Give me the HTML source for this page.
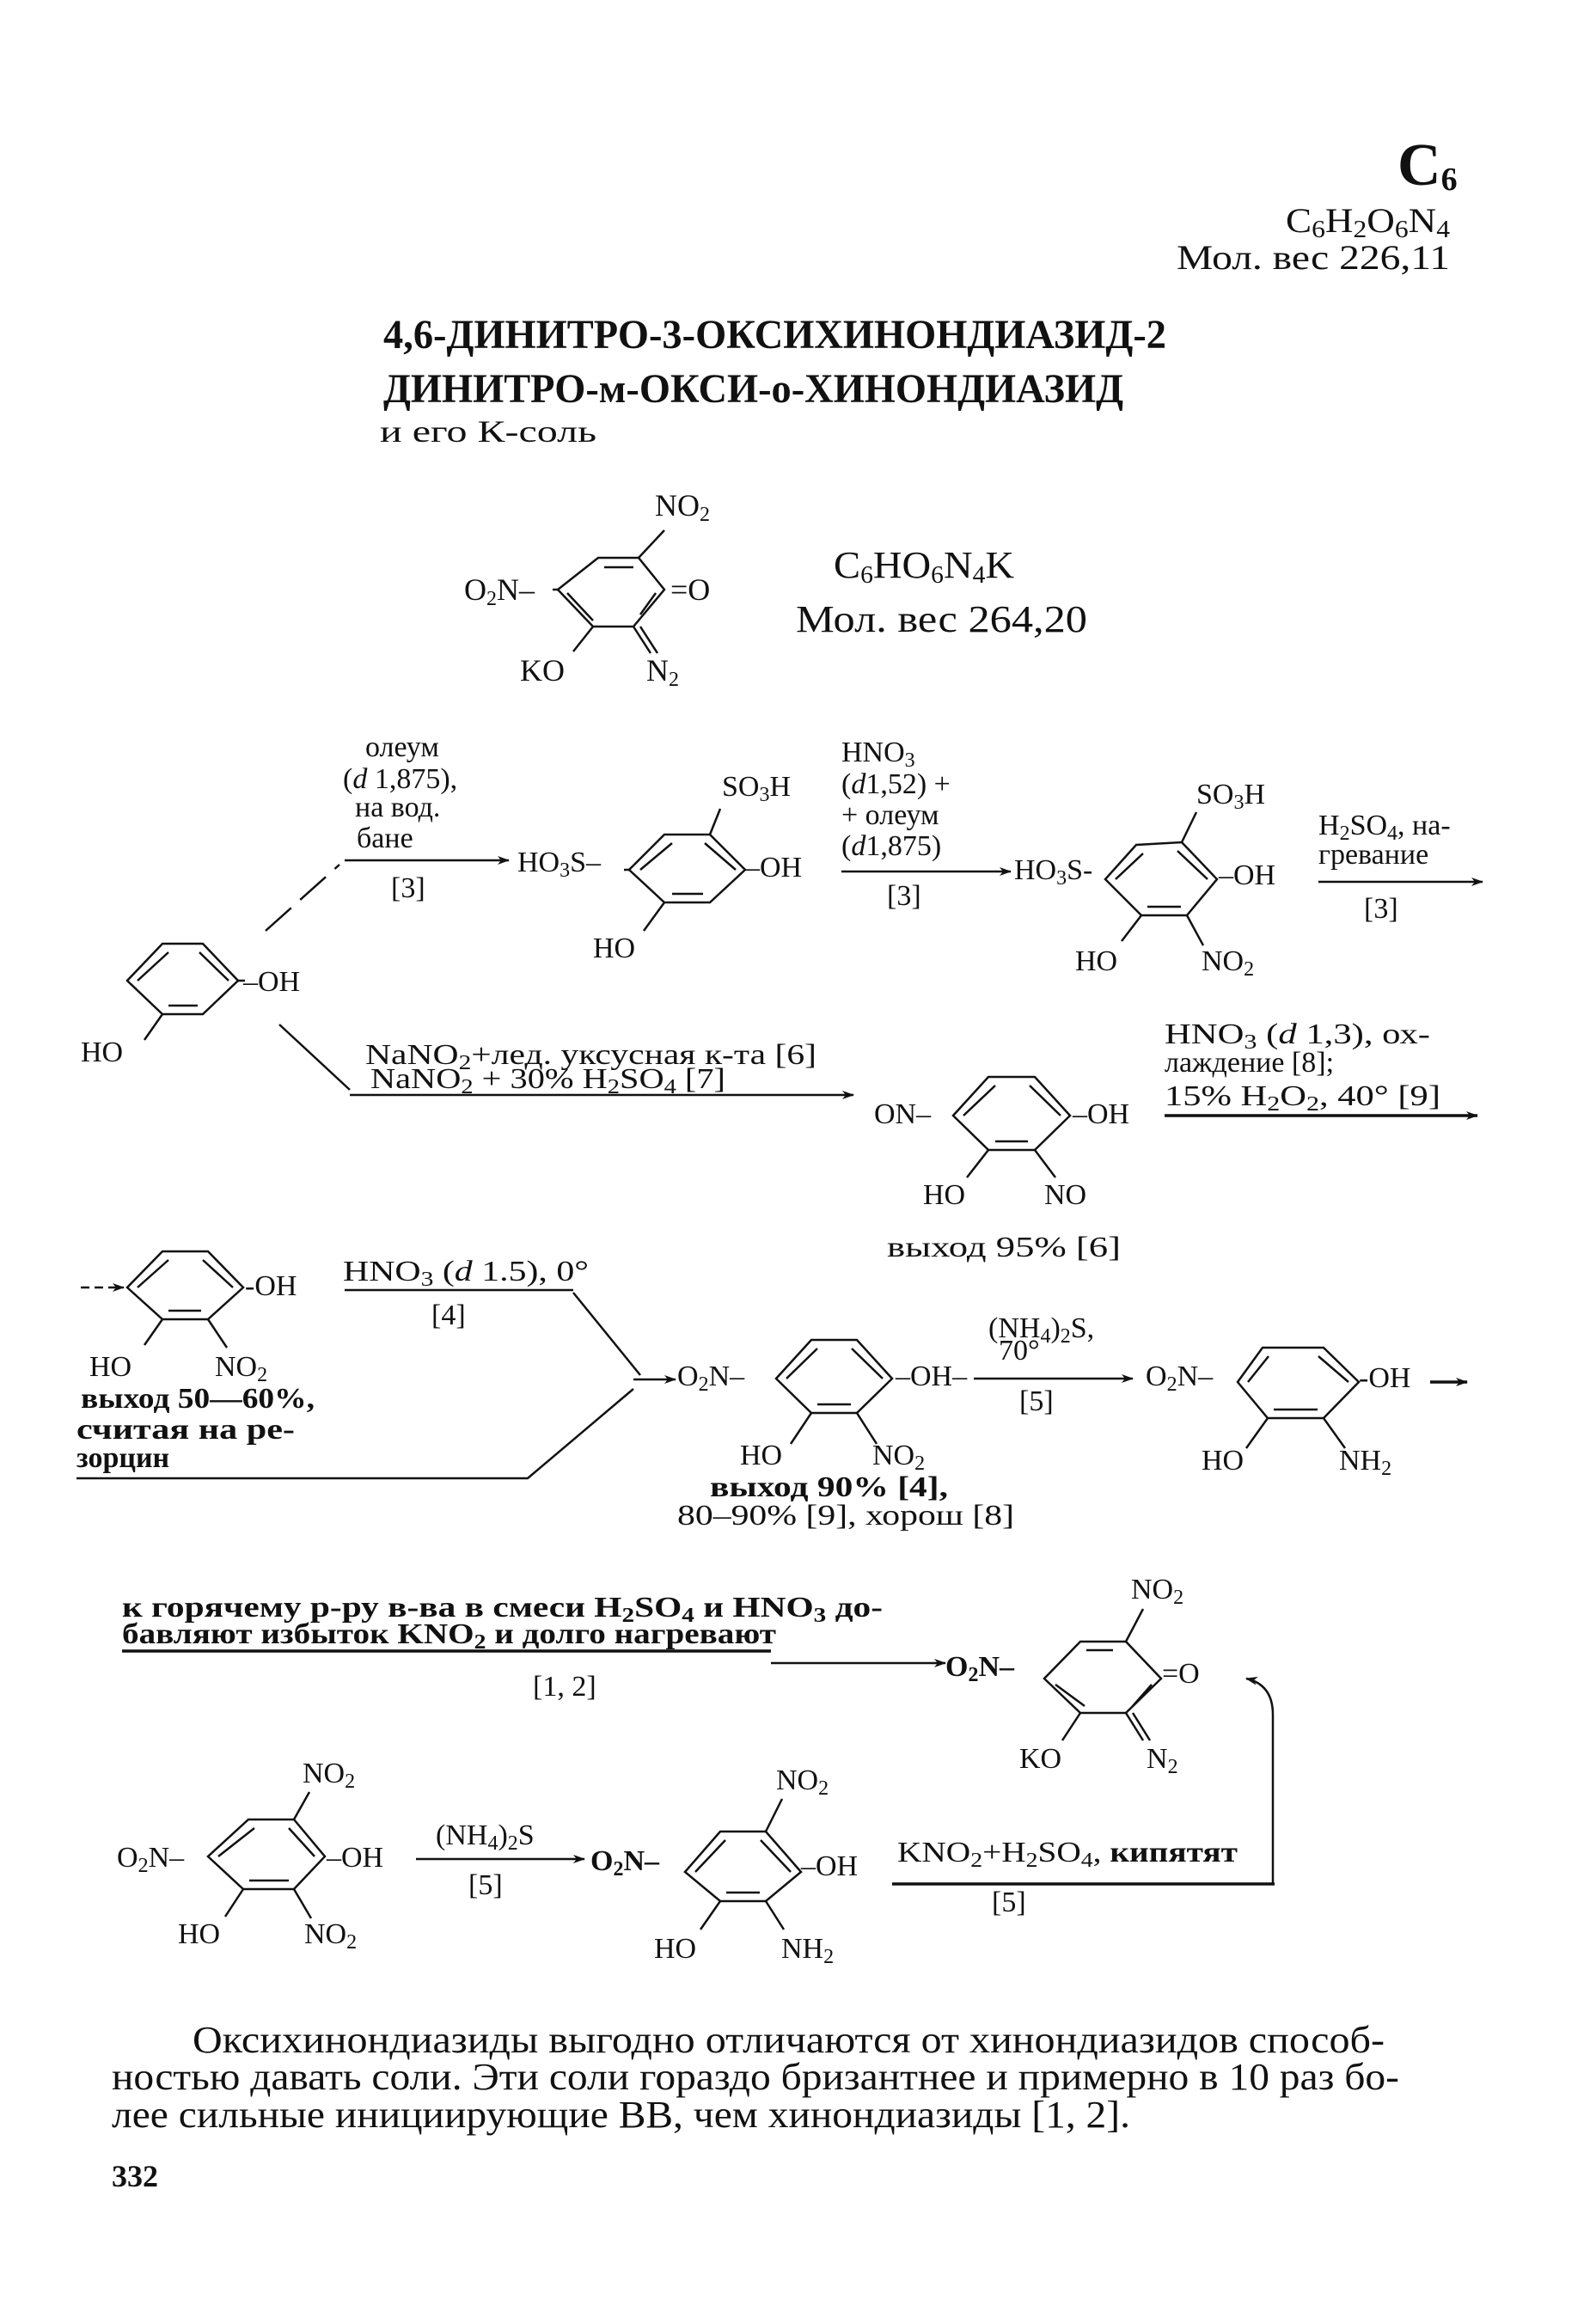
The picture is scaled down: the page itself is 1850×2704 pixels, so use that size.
<!DOCTYPE html>
<html><head><meta charset="utf-8"><style>
html,body{margin:0;padding:0;background:#fff;}
svg{display:block;}
text{font-family:"Liberation Serif","DejaVu Serif",serif;fill:#111;}
.b{font-weight:bold;}
</style></head><body>
<svg xmlns="http://www.w3.org/2000/svg" width="1850" height="2704" viewBox="0 0 1850 2704">
<defs><marker id="a" markerWidth="14" markerHeight="10" refX="13" refY="5" orient="auto" markerUnits="userSpaceOnUse"><path d="M0,0 L14,5 L0,10 L4,5z" fill="#111"/></marker></defs>
<g stroke="#111" stroke-width="2.5" fill="none">
<!-- rings -->
<polygon points="696,649 743,649 773,686 737,729 690,729 649,686"/>
<polygon points="189,1098 236,1098 277,1141 236,1180 189,1180 148,1141"/>
<polygon points="773,971 826,971 867,1012 826,1050 773,1050 732,1012"/>
<polygon points="1322,983 1375,980 1416,1023 1381,1065 1328,1065 1286,1023"/>
<polygon points="1150,1253 1204,1253 1245,1298 1204,1338 1150,1338 1109,1298"/>
<polygon points="189,1456 242,1456 283,1498 242,1535 189,1535 148,1498"/>
<polygon points="944,1559 997,1559 1038,1604 997,1644 944,1644 903,1604"/>
<polygon points="1469,1568 1540,1568 1581,1608 1540,1650 1475,1650 1440,1608"/>
<polygon points="1257,1910 1310,1910 1351,1953 1310,1993 1257,1993 1215,1953"/>
<polygon points="289,2117 342,2117 378,2160 342,2198 283,2198 242,2160"/>
<polygon points="838,2131 891,2131 932,2178 891,2212 838,2212 797,2178"/>
<!-- inner double bonds -->
<path d="M703,660 L737,660 M745,715 L763,690 M660,690 L690,722"/>
<path d="M196,1108 L160,1141 M232,1108 L266,1141 M196,1170 L230,1170"/>
<path d="M782,981 L745,1012 M820,981 L856,1012 M782,1040 L818,1040"/>
<path d="M1330,993 L1298,1023 M1370,990 L1405,1023 M1335,1055 L1374,1055"/>
<path d="M1158,1263 L1121,1298 M1198,1263 L1234,1298 M1158,1328 L1196,1328"/>
<path d="M196,1466 L160,1498 M236,1466 L271,1498 M196,1525 L234,1525"/>
<path d="M951,1569 L915,1604 M991,1569 L1027,1604 M951,1634 L990,1634"/>
<path d="M1476,1578 L1452,1608 M1534,1578 L1569,1608 M1482,1640 L1533,1640"/>
<path d="M1264,1920 L1295,1920 M1228,1960 L1262,1985 M1318,1985 L1340,1960"/>
<path d="M296,2127 L254,2160 M336,2127 L366,2160 M290,2188 L336,2188"/>
<path d="M844,2141 L809,2178 M885,2141 L920,2178 M845,2202 L884,2202"/>
<!-- substituent bonds -->
<path d="M773,617 L743,649 M643,686 L649,686 M690,729 L667,758 M737,729 L757,760 M745,729 L765,760"/>
<path d="M189,1180 L168,1210 M277,1141 L285,1141"/>
<path d="M838,941 L826,971 M773,1050 L749,1083 M726,1012 L732,1012"/>
<path d="M1392,945 L1375,980 M1328,1065 L1305,1095 M1381,1065 L1400,1100"/>
<path d="M1150,1338 L1125,1370 M1204,1338 L1228,1370"/>
<path d="M189,1535 L168,1565 M242,1535 L264,1568"/>
<path d="M944,1644 L920,1680 M997,1644 L1020,1680"/>
<path d="M1475,1650 L1450,1685 M1540,1650 L1565,1685"/>
<path d="M1330,1872 L1310,1910 M1257,1993 L1236,2025 M1310,1993 L1330,2025 M1318,1993 L1338,2025"/>
<path d="M360,2085 L342,2117 M283,2198 L262,2230 M342,2198 L362,2232"/>
<path d="M910,2093 L891,2131 M838,2212 L815,2245 M891,2212 L912,2245"/>
<!-- connectors -->
<path d="M309,1083 L395,1006" stroke-dasharray="40,14"/>
<line x1="401" y1="1001" x2="592" y2="1001" marker-end="url(#a)"/>
<line x1="979" y1="1014" x2="1176" y2="1014" marker-end="url(#a)"/>
<line x1="1534" y1="1026" x2="1725" y2="1026" marker-end="url(#a)"/>
<path d="M325,1192 L407,1268"/>
<line x1="407" y1="1274" x2="993" y2="1274" marker-end="url(#a)"/>
<line x1="1355" y1="1298" x2="1719" y2="1298" stroke-width="3.5" marker-end="url(#a)"/>
<line x1="94" y1="1498" x2="144" y2="1498" stroke-dasharray="10,6" marker-end="url(#a)"/>
<line x1="401" y1="1501" x2="667" y2="1501"/>
<path d="M667,1504 L745,1600"/>
<path d="M89,1720 L614,1720 L737,1616"/>
<line x1="737" y1="1605" x2="786" y2="1605" marker-end="url(#a)"/>
<line x1="1133" y1="1604" x2="1318" y2="1604" marker-end="url(#a)"/>
<line x1="1664" y1="1608" x2="1707" y2="1608" stroke-width="3.5" marker-end="url(#a)"/>
<line x1="142" y1="1921" x2="897" y2="1921" stroke-width="3.5"/>
<line x1="897" y1="1935" x2="1100" y2="1935" marker-end="url(#a)"/>
<line x1="484" y1="2163" x2="680" y2="2163" marker-end="url(#a)"/>
<line x1="1038" y1="2192" x2="1483" y2="2192" stroke-width="3.5"/>
<path d="M1481,2192 L1481,1995 Q1481,1960 1450,1953" marker-end="url(#a)"/>
</g>
<!-- header -->
<text x="1626" y="215" font-size="70" class="b">C<tspan font-size="38" dy="6">6</tspan></text>
<text x="1496" y="270" font-size="40" textLength="191" lengthAdjust="spacingAndGlyphs">C<tspan font-size="28" dy="6">6</tspan><tspan dy="-6">H</tspan><tspan font-size="28" dy="6">2</tspan><tspan dy="-6">O</tspan><tspan font-size="28" dy="6">6</tspan><tspan dy="-6">N</tspan><tspan font-size="28" dy="6">4</tspan></text>
<text x="1369" y="313" font-size="40" textLength="318" lengthAdjust="spacingAndGlyphs">Мол. вес 226,11</text>
<text x="446" y="405" font-size="48" class="b" textLength="911" lengthAdjust="spacingAndGlyphs">4,6-ДИНИТРО-3-ОКСИХИНОНДИАЗИД-2</text>
<text x="446" y="468" font-size="48" class="b" textLength="861" lengthAdjust="spacingAndGlyphs">ДИНИТРО-м-ОКСИ-о-ХИНОНДИАЗИД</text>
<text x="442" y="514" font-size="36" textLength="252" lengthAdjust="spacingAndGlyphs">и его К-соль</text>
<!-- structure 1 -->
<g font-size="36">
<text x="762" y="600">NO<tspan font-size="24" dy="6">2</tspan></text>
<text x="540" y="698">O<tspan font-size="24" dy="6">2</tspan><tspan dy="-6">N–</tspan></text>
<text x="780" y="698">=O</text>
<text x="605" y="792">KO</text>
<text x="752" y="792">N<tspan font-size="24" dy="6">2</tspan></text>
</g>
<text x="970" y="672" font-size="44" textLength="210" lengthAdjust="spacingAndGlyphs">C<tspan font-size="28" dy="6">6</tspan><tspan dy="-6">HO</tspan><tspan font-size="28" dy="6">6</tspan><tspan dy="-6">N</tspan><tspan font-size="28" dy="6">4</tspan><tspan dy="-6">K</tspan></text>
<text x="926" y="735" font-size="44" textLength="339" lengthAdjust="spacingAndGlyphs">Мол. вес 264,20</text>
<!-- row 1 -->
<g font-size="34">
<text x="425" y="880">олеум</text>
<text x="399" y="917">(<tspan font-style="italic">d</tspan> 1,875),</text>
<text x="413" y="950">на вод.</text>
<text x="415" y="986">бане</text>
<text x="455" y="1044">[3]</text>
<text x="602" y="1014">HO<tspan font-size="24" dy="6">3</tspan><tspan dy="-6">S–</tspan></text>
<text x="840" y="926">SO<tspan font-size="24" dy="6">3</tspan><tspan dy="-6">H</tspan></text>
<text x="867" y="1020">–OH</text>
<text x="690" y="1114">HO</text>
<text x="979" y="886">HNO<tspan font-size="24" dy="6">3</tspan></text>
<text x="979" y="923">(<tspan font-style="italic">d</tspan>1,52) +</text>
<text x="979" y="959">+ олеум</text>
<text x="979" y="995">(<tspan font-style="italic">d</tspan>1,875)</text>
<text x="1032" y="1053">[3]</text>
<text x="1180" y="1023">HO<tspan font-size="24" dy="6">3</tspan><tspan dy="-6">S-</tspan></text>
<text x="1392" y="935">SO<tspan font-size="24" dy="6">3</tspan><tspan dy="-6">H</tspan></text>
<text x="1418" y="1029">–OH</text>
<text x="1251" y="1129">HO</text>
<text x="1398" y="1129">NO<tspan font-size="24" dy="6">2</tspan></text>
<text x="1534" y="971">H<tspan font-size="24" dy="6">2</tspan><tspan dy="-6">SO</tspan><tspan font-size="24" dy="6">4</tspan><tspan dy="-6">, на-</tspan></text>
<text x="1534" y="1005">гревание</text>
<text x="1587" y="1068">[3]</text>
<!-- row 2 -->
<text x="283" y="1153">–OH</text>
<text x="94" y="1235">HO</text>
<text x="425" y="1238" textLength="525" lengthAdjust="spacingAndGlyphs">NaNO<tspan font-size="24" dy="6">2</tspan><tspan dy="-6">+лед. уксусная к-та [6]</tspan></text>
<text x="431" y="1266" textLength="413" lengthAdjust="spacingAndGlyphs">NaNO<tspan font-size="24" dy="6">2</tspan><tspan dy="-6"> + 30% H</tspan><tspan font-size="24" dy="6">2</tspan><tspan dy="-6">SO</tspan><tspan font-size="24" dy="6">4</tspan><tspan dy="-6"> [7]</tspan></text>
<text x="1017" y="1307">ON–</text>
<text x="1248" y="1307">–OH</text>
<text x="1074" y="1401">HO</text>
<text x="1215" y="1401">NO</text>
<text x="1032" y="1462" textLength="272" lengthAdjust="spacingAndGlyphs">выход 95% [6]</text>
<text x="1355" y="1214" textLength="309" lengthAdjust="spacingAndGlyphs">HNO<tspan font-size="24" dy="6">3</tspan><tspan dy="-6"> (</tspan><tspan font-style="italic">d</tspan> 1,3), ох-</text>
<text x="1355" y="1247">лаждение [8];</text>
<text x="1355" y="1286" textLength="321" lengthAdjust="spacingAndGlyphs">15% H<tspan font-size="24" dy="6">2</tspan><tspan dy="-6">O</tspan><tspan font-size="24" dy="6">2</tspan><tspan dy="-6">, 40° [9]</tspan></text>
<!-- row 3 -->
<text x="285" y="1507">-OH</text>
<text x="104" y="1601">HO</text>
<text x="250" y="1601">NO<tspan font-size="24" dy="6">2</tspan></text>
<text x="94" y="1638" class="b" textLength="272" lengthAdjust="spacingAndGlyphs">выход 50—60%,</text>
<text x="89" y="1674" class="b" textLength="254" lengthAdjust="spacingAndGlyphs">считая на ре-</text>
<text x="89" y="1707" class="b">зорцин</text>
<text x="399" y="1490" textLength="286" lengthAdjust="spacingAndGlyphs">HNO<tspan font-size="24" dy="6">3</tspan><tspan dy="-6"> (</tspan><tspan font-style="italic">d</tspan> 1.5), 0°</text>
<text x="502" y="1541">[4]</text>
<text x="788" y="1612">O<tspan font-size="24" dy="6">2</tspan><tspan dy="-6">N–</tspan></text>
<text x="1042" y="1612">–OH–</text>
<text x="1150" y="1556">(NH<tspan font-size="24" dy="6">4</tspan><tspan dy="-6">)</tspan><tspan font-size="24" dy="6">2</tspan><tspan dy="-6">S,</tspan></text>
<text x="1162" y="1582">70°</text>
<text x="1186" y="1641">[5]</text>
<text x="861" y="1704">HO</text>
<text x="1015" y="1704">NO<tspan font-size="24" dy="6">2</tspan></text>
<text x="826" y="1741" class="b" textLength="277" lengthAdjust="spacingAndGlyphs">выход 90% [4],</text>
<text x="788" y="1774" textLength="392" lengthAdjust="spacingAndGlyphs">80–90% [9], хорош [8]</text>
<text x="1333" y="1612">O<tspan font-size="24" dy="6">2</tspan><tspan dy="-6">N–</tspan></text>
<text x="1581" y="1614">-OH</text>
<text x="1398" y="1710">HO</text>
<text x="1558" y="1710">NH<tspan font-size="24" dy="6">2</tspan></text>
<!-- row 4 -->
<text x="142" y="1881" class="b" textLength="885" lengthAdjust="spacingAndGlyphs">к горячему р-ру в-ва в смеси H<tspan font-size="24" dy="6">2</tspan><tspan dy="-6">SO</tspan><tspan font-size="24" dy="6">4</tspan><tspan dy="-6"> и HNO</tspan><tspan font-size="24" dy="6">3</tspan><tspan dy="-6"> до-</tspan></text>
<text x="142" y="1912" class="b" textLength="761" lengthAdjust="spacingAndGlyphs">бавляют избыток KNO<tspan font-size="24" dy="6">2</tspan><tspan dy="-6"> и долго нагревают</tspan></text>
<text x="620" y="1973">[1, 2]</text>
<text x="1100" y="1950" class="b">O<tspan font-size="24" dy="6">2</tspan><tspan dy="-6">N–</tspan></text>
<text x="1316" y="1860">NO<tspan font-size="24" dy="6">2</tspan></text>
<text x="1352" y="1958">=O</text>
<text x="1186" y="2057">KO</text>
<text x="1334" y="2057">N<tspan font-size="24" dy="6">2</tspan></text>
<!-- row 5 -->
<text x="352" y="2074">NO<tspan font-size="24" dy="6">2</tspan></text>
<text x="136" y="2172">O<tspan font-size="24" dy="6">2</tspan><tspan dy="-6">N–</tspan></text>
<text x="380" y="2172">–OH</text>
<text x="207" y="2261">HO</text>
<text x="354" y="2261">NO<tspan font-size="24" dy="6">2</tspan></text>
<text x="507" y="2146">(NH<tspan font-size="24" dy="6">4</tspan><tspan dy="-6">)</tspan><tspan font-size="24" dy="6">2</tspan><tspan dy="-6">S</tspan></text>
<text x="545" y="2204">[5]</text>
<text x="687" y="2176" class="b">O<tspan font-size="24" dy="6">2</tspan><tspan dy="-6">N–</tspan></text>
<text x="903" y="2082">NO<tspan font-size="24" dy="6">2</tspan></text>
<text x="932" y="2182">–OH</text>
<text x="761" y="2278">HO</text>
<text x="909" y="2278">NH<tspan font-size="24" dy="6">2</tspan></text>
<text x="1044" y="2166" textLength="396" lengthAdjust="spacingAndGlyphs">KNO<tspan font-size="24" dy="6">2</tspan><tspan dy="-6">+H</tspan><tspan font-size="24" dy="6">2</tspan><tspan dy="-6">SO</tspan><tspan font-size="24" dy="6">4</tspan><tspan dy="-6">, </tspan><tspan class="b">кипятят</tspan></text>
<text x="1154" y="2224">[5]</text>
</g>
<!-- paragraph -->
<g font-size="44">
<text x="224" y="2388" textLength="1387" lengthAdjust="spacingAndGlyphs">Оксихинондиазиды выгодно  отличаются от хинондиазидов  способ-</text>
<text x="130" y="2431" textLength="1498" lengthAdjust="spacingAndGlyphs">ностью давать соли. Эти соли гораздо бризантнее и примерно в 10 раз бо-</text>
<text x="130" y="2475" textLength="1185" lengthAdjust="spacingAndGlyphs">лее сильные инициирующие ВВ, чем хинондиазиды [1, 2].</text>
</g>
<text x="130" y="2544" font-size="36" class="b">332</text>
</svg>
</body></html>
